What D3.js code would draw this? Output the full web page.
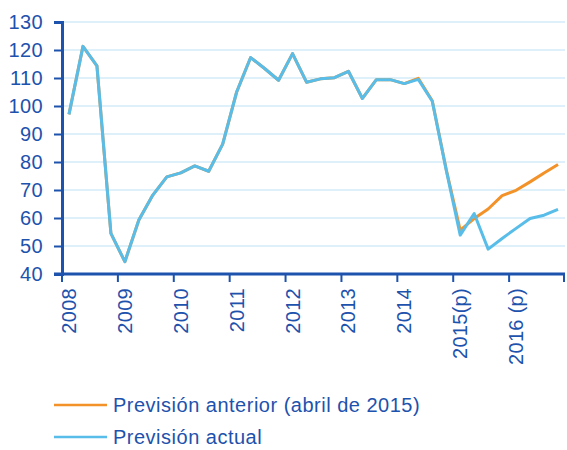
<!DOCTYPE html>
<html>
  <head>
    <meta charset="utf-8">
    <script src="https://cdn.jsdelivr.net/npm/d3@7"></script>
    <style>
      body { margin: 0; background: #fff; }
      text { font-family: "Liberation Sans", Arial, sans-serif; fill: #1d52ad; }
    </style>
  </head>
  <body>
    <div id="chart"></div>
    <script>
      // Year labels (one per 4 quarters) and quarterly values
      const years = ["2008", "2009", "2010", "2011", "2012", "2013", "2014", "2015(p)", "2016 (p)"]
      const yTicks = [40, 50, 60, 70, 80, 90, 100, 110, 120, 130]

      const actual = [97, 121.3, 114.3, 54.5, 44.4, 59.3, 68.2, 74.7,
        76.1, 78.6, 76.7, 86.4, 105, 117.3, 113.4, 109.2,
        118.7, 108.5, 109.7, 110.1, 112.4, 102.7, 109.4, 109.4,
        108.0, 109.5, 101.7, 77.1, 53.9, 61.6, 48.9, 52.7,
        56.3, 59.8, 61.0, 63.1]
      const previous = [97, 121.3, 114.3, 54.5, 44.4, 59.3, 68.2, 74.7,
        76.1, 78.6, 76.7, 86.4, 105, 117.3, 113.4, 109.2,
        118.7, 108.5, 109.7, 110.1, 112.4, 102.7, 109.4, 109.4,
        108.0, 109.9, 101.9, 77.3, 55.7, 59.8, 63.2, 68.0,
        69.9, 72.9, 76.1, 79.1]

      const seriesNames = ["Previsión anterior (abril de 2015)", "Previsión actual"]
      const colors = ["#f39229", "#58bde8"]
      const axisColor = "#1d52ad"

      const width = 567, height = 450
      const margin = {left: 62, right: 2, top: 22, bottom: 176}

      const svg = d3.select("#chart").append("svg")
        .attr("width", width)
        .attr("height", height)

      // one band per quarter
      const x = d3.scaleBand()
        .domain(d3.range(actual.length))
        .range([margin.left, width - margin.right])

      const y = d3.scaleLinear()
        .domain([40, 130])
        .range([height - margin.bottom, margin.top])

      // gridlines
      svg.append("g")
        .selectAll("line")
        .data(yTicks.slice(1))
        .join("line")
          .attr("x1", margin.left)
          .attr("x2", width - margin.right)
          .attr("y1", d => y(d))
          .attr("y2", d => y(d))
          .attr("stroke", "#d3edf8")
          .attr("stroke-width", 1.5)

      // lines: previous forecast under, current on top
      const line = d3.line()
        .x((d, i) => x(i) + x.bandwidth() / 2)
        .y(d => y(d))

      ;[previous, actual].forEach((s, k) => {
        svg.append("path")
          .datum(s)
          .attr("fill", "none")
          .attr("stroke", colors[k])
          .attr("stroke-width", 3)
          .attr("stroke-linejoin", "round")
          .attr("d", line)
      })

      // y axis
      const yAxis = svg.append("g")
        .attr("transform", `translate(${margin.left},0)`)
        .call(d3.axisLeft(y).tickValues(yTicks).tickSize(8).tickPadding(11))
      yAxis.selectAll("text").style("font-size", "20px").style("letter-spacing", "0.4px")

      // x axis: ticks between years
      const yearScale = d3.scaleBand()
        .domain(years)
        .range([margin.left, width - margin.right])
      const xAxis = svg.append("g")
        .attr("transform", `translate(0,${height - margin.bottom})`)
      xAxis.append("line")
        .attr("x1", margin.left - 8)
        .attr("x2", width - margin.right)
        .attr("stroke", axisColor)
        .attr("stroke-width", 3)
      const tickPos = years.map(d => yearScale(d)).concat([width - margin.right - 1])
      xAxis.selectAll(".tk")
        .data(tickPos)
        .join("line")
          .attr("class", "tk")
          .attr("x1", d => d)
          .attr("x2", d => d)
          .attr("y1", 0)
          .attr("y2", 8)
          .attr("stroke", axisColor)
          .attr("stroke-width", 2)
      xAxis.selectAll(".lbl")
        .data(years)
        .join("text")
          .attr("class", "lbl")
          .attr("transform", (d, i) => `translate(${x(i * 4) + x.bandwidth() / 2 + 7},14) rotate(-90)`)
          .attr("text-anchor", "end")
          .style("font-size", "20px")
          .style("letter-spacing", "0.3px")
          .text(d => d)

      yAxis.select(".domain").attr("stroke", axisColor).attr("stroke-width", 3)
      yAxis.selectAll(".tick line").attr("stroke", axisColor).attr("stroke-width", 2)
      yAxis.selectAll(".tick text").attr("fill", axisColor)

      // legend
      const legend = svg.append("g")
      seriesNames.forEach((name, k) => {
        const ly = 405 + k * 32
        legend.append("line")
          .attr("x1", 54).attr("x2", 107)
          .attr("y1", ly).attr("y2", ly)
          .attr("stroke", colors[k])
          .attr("stroke-width", 2.5)
        legend.append("text")
          .attr("x", 113)
          .attr("y", ly + 7)
          .style("font-size", "20px")
          .style("letter-spacing", "0.5px")
          .text(name)
      })
    </script>
  </body>
</html>
